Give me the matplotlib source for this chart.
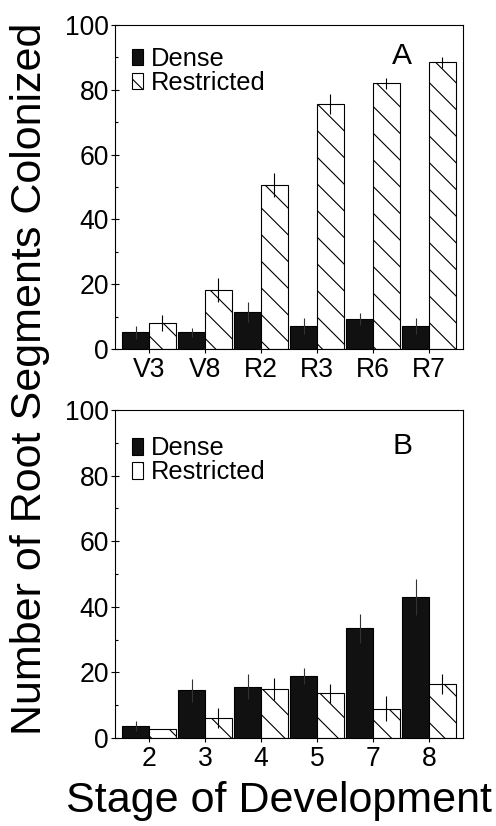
import matplotlib
matplotlib.use("Agg")
import matplotlib.pyplot as plt
from matplotlib.ticker import MultipleLocator
import numpy as np

# ---- data ----
stages_a = ["V3", "V8", "R2", "R3", "R6", "R7"]
dense_a = [5.1, 5.1, 11.5, 7.1, 9.2, 7.1]
dense_a_err = [2.0, 1.3, 3.1, 2.6, 1.8, 2.4]
restricted_a = [8.1, 18.2, 50.6, 75.6, 82.0, 88.5]
restricted_a_err = [2.4, 3.8, 3.8, 3.0, 1.6, 1.7]

stages_b = ["2", "3", "4", "5", "7", "8"]
dense_b = [3.6, 14.5, 15.6, 18.9, 33.5, 43.0]
dense_b_err = [1.5, 3.6, 3.8, 2.5, 4.4, 5.4]
restricted_b = [2.6, 6.1, 15.0, 13.7, 8.9, 16.4]
restricted_b_err = [0.0, 2.9, 3.3, 2.9, 3.8, 3.0]

series_labels = ["Dense", "Restricted"]
panel_letters = ["A", "B"]
ylabel = "Number of Root Segments Colonized"
xlabel = "Stage of Development"

DPI = 80
W, H = 496, 826
plt.rcParams["font.family"] = ["Liberation Sans", "DejaVu Sans"]
plt.rcParams["hatch.linewidth"] = 1.0
fig = plt.figure(figsize=(W / DPI, H / DPI), dpi=DPI)

def px2pt(px):
    return px * 72.0 / DPI

ax_a = fig.add_axes([115 / W, 1 - 349 / H, 348 / W, 324 / H])
ax_b = fig.add_axes([115 / W, 1 - 738 / H, 348 / W, 328 / H])

bw = 0.48

def draw(ax, cats, d, de, r, re_, letter, letter_y, leg_y):
    x = np.arange(len(cats))
    ax.bar(x - bw / 2, d, bw, color="#111111", edgecolor="black", linewidth=1.0,
           label=series_labels[0], zorder=2)
    ax.bar(x + bw / 2, r, bw, color="white", edgecolor="black", linewidth=1.0,
           hatch="\\", label=series_labels[1], zorder=2)
    ax.errorbar(x - bw / 2, d, yerr=de, fmt="none", ecolor="#333333", elinewidth=1.0,
                capsize=0, zorder=3)
    ax.errorbar(x + bw / 2, r, yerr=re_, fmt="none", ecolor="black", elinewidth=1.0,
                capsize=0, zorder=3)
    ax.set_xlim(-0.607, len(cats) - 1 + 0.607)
    ax.set_ylim(0, 100)
    ax.set_xticks(x)
    ax.set_xticklabels(cats)
    ax.yaxis.set_major_locator(MultipleLocator(20))
    ax.yaxis.set_minor_locator(MultipleLocator(10))
    ax.tick_params(axis="y", which="major", direction="inout", length=7, width=1,
                   labelsize=px2pt(26.5), pad=2)
    ax.tick_params(axis="y", which="minor", direction="in", length=3, width=1)
    ax.tick_params(axis="x", which="major", direction="inout", length=7, width=1,
                   labelsize=px2pt(26.5), pad=4)
    for s in ax.spines.values():
        s.set_linewidth(1.0)
    ax.text(0.825, letter_y, letter, transform=ax.transAxes,
            fontsize=px2pt(30), ha="center", va="center")
    ax.legend(loc="upper left", bbox_to_anchor=(0.05, leg_y), frameon=False,
              fontsize=px2pt(25.5), handlelength=0.42, handleheight=0.62,
              handletextpad=0.3, labelspacing=0.0, borderpad=0.0,
              borderaxespad=0.0)

draw(ax_a, stages_a, dense_a, dense_a_err, restricted_a, restricted_a_err, "A", 0.905, 0.932)
draw(ax_b, stages_b, dense_b, dense_b_err, restricted_b, restricted_b_err, "B", 0.89, 0.92)

fig.text(30 / W, 1 - 379 / H, ylabel, rotation=90, ha="center", va="center",
         fontsize=px2pt(43))
fig.text(279 / W, 1 - 801 / H, xlabel, ha="center", va="center",
         fontsize=px2pt(43))

fig.savefig("out.png", dpi=DPI)
